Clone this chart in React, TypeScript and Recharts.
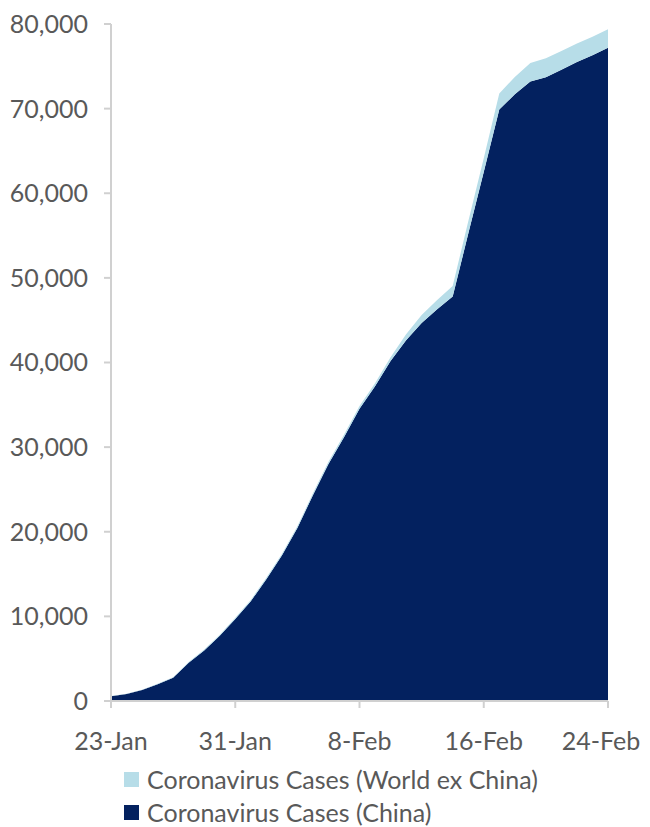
import React from 'react';
import { AreaChart, Area, XAxis, YAxis } from 'recharts';

// daily dates, 23-Jan .. 24-Feb
const dates = [
  '23-Jan', '24-Jan', '25-Jan', '26-Jan', '27-Jan', '28-Jan', '29-Jan', '30-Jan', '31-Jan',
  '1-Feb', '2-Feb', '3-Feb', '4-Feb', '5-Feb', '6-Feb', '7-Feb', '8-Feb',
  '9-Feb', '10-Feb', '11-Feb', '12-Feb', '13-Feb', '14-Feb', '15-Feb', '16-Feb',
  '17-Feb', '18-Feb', '19-Feb', '20-Feb', '21-Feb', '22-Feb', '23-Feb', '24-Feb',
];

const chinaCases = [
  571, 830, 1287, 1975, 2744, 4515, 5974, 7711, 9692,
  11791, 14380, 17205, 20438, 24324, 28018, 31161, 34546,
  37198, 40171, 42638, 44653, 46300, 47800, 55200, 62500,
  69900, 71700, 73200, 73700, 74600, 75500, 76300, 77200,
];

const worldExChina = [
  10, 20, 40, 50, 60, 80, 100, 120, 140,
  150, 170, 180, 200, 220, 250, 290, 320,
  350, 450, 700, 950, 1100, 1250, 1450, 1650,
  1900, 2050, 2200, 2250, 2200, 2200, 2180, 2170,
];

const yTicks = [0, 10000, 20000, 30000, 40000, 50000, 60000, 70000, 80000];

const NAVY = '#03215F';
const LIGHT = '#B7DDE8';
const TEXT = '#595959';
const AXIS = '#D0D0D0';
const FONT = 'Lato, "Noto Sans", sans-serif';
const FS = 25;

const data = dates.map((d, i) => ({
  date: d,
  china: chinaCases[i],
  world: worldExChina[i],
}));

const fmt = (v: number) => v.toLocaleString('en-US');

// last label would run past the page edge, nudge it in a bit
const DateTick = (props: any) => {
  const { x, y, payload } = props;
  const last = payload.value === dates[dates.length - 1];
  return (
    <text
      x={last ? x - 7 : x}
      y={y}
      dy="0.71em"
      textAnchor="middle"
      fill={TEXT}
      fontSize={FS}
      fontFamily={FONT}
    >
      {payload.value}
    </text>
  );
};

export default function App() {
  return (
    <div style={{ position: 'relative', width: 634, height: 819, fontFamily: FONT }}>
      <AreaChart
        width={634}
        height={752}
        data={data}
        margin={{ top: 16, right: 34, left: 0, bottom: 0 }}
        style={{ position: 'absolute', left: 0, top: 0 }}
      >
        <XAxis
          dataKey="date"
          interval={7}
          height={59}
          tickSize={7}
          tickMargin={24}
          axisLine={{ stroke: AXIS, strokeWidth: 2 }}
          tickLine={{ stroke: AXIS, strokeWidth: 2 }}
          tick={<DateTick />}
        />
        <YAxis
          width={103}
          domain={[0, 80000]}
          ticks={yTicks}
          tickFormatter={fmt}
          tickSize={7}
          tickMargin={16}
          axisLine={{ stroke: AXIS, strokeWidth: 2 }}
          tickLine={{ stroke: AXIS, strokeWidth: 2 }}
          tick={{ fill: TEXT, fontSize: FS, fontFamily: FONT }}
        />
        <Area
          type="linear"
          dataKey="china"
          stackId="a"
          stroke="none"
          fill={NAVY}
          fillOpacity={1}
          isAnimationActive={false}
          name="Coronavirus Cases (China)"
        />
        <Area
          type="linear"
          dataKey="world"
          stackId="a"
          stroke="none"
          fill={LIGHT}
          fillOpacity={1}
          isAnimationActive={false}
          name="Coronavirus Cases (World ex China)"
        />
      </AreaChart>
      <div style={{ position: 'absolute', left: 116, top: 756, color: TEXT, fontSize: FS, lineHeight: '30px' }}>
        <div style={{ display: 'flex', alignItems: 'center', height: 30, marginBottom: 3 }}>
          <span style={{ width: 15, height: 15, background: LIGHT, marginRight: 8, display: 'inline-block' }} />
          Coronavirus Cases (World ex China)
        </div>
        <div style={{ display: 'flex', alignItems: 'center', height: 30 }}>
          <span style={{ width: 15, height: 15, background: NAVY, marginRight: 8, display: 'inline-block' }} />
          Coronavirus Cases (China)
        </div>
      </div>
    </div>
  );
}
